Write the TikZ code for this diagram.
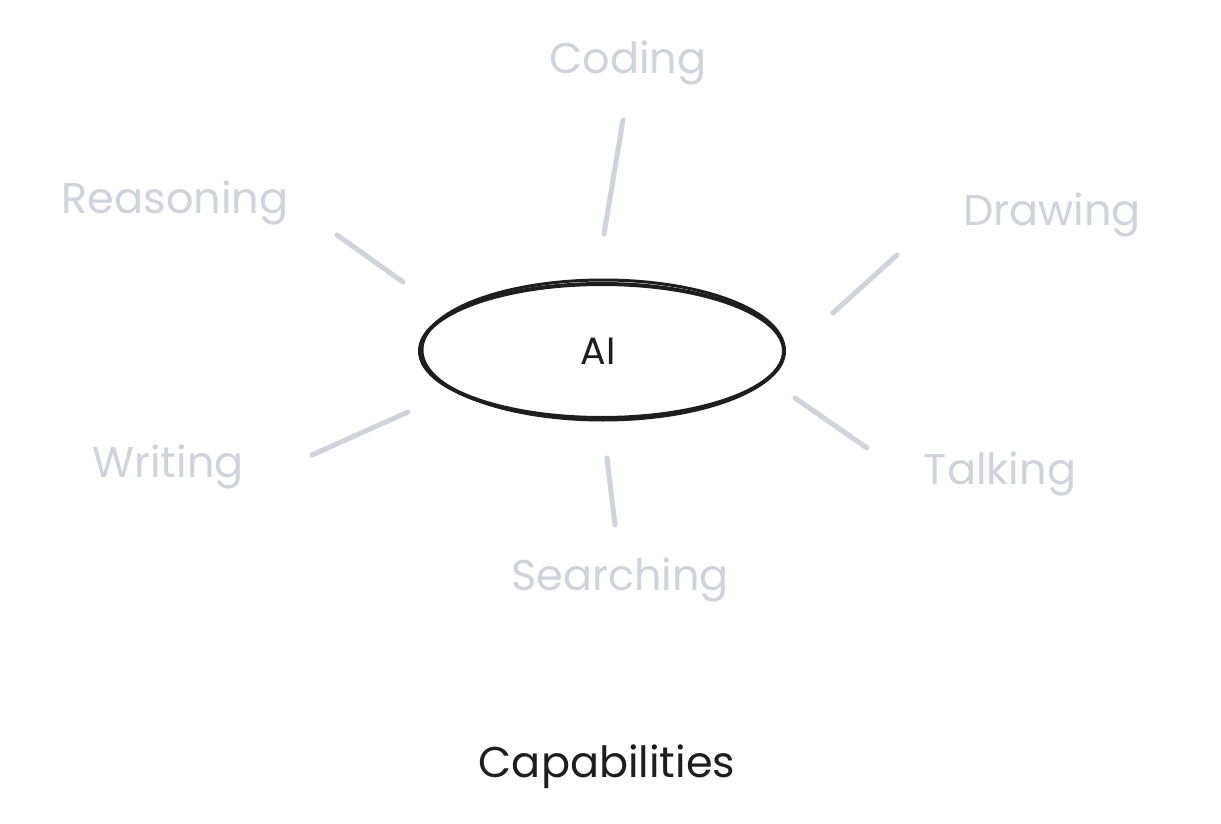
\documentclass[tikz,border=0pt]{standalone}
\usepackage{fontspec}
\setmainfont{Poppins}
\definecolor{lbl}{HTML}{CED4DA}
\definecolor{ink}{HTML}{1E1E1E}
\begin{document}
\begin{tikzpicture}[x=1pt,y=-1pt,
  lbltext/.style={text=lbl,font=\fontsize{43}{50}\selectfont,inner sep=0pt},
  spoke/.style={draw=lbl,line width=5pt,line cap=round},
  ring/.style={draw=ink,line width=4pt}]
\useasboundingbox[fill=white] (0,0) rectangle (1221,824);
% central ellipse, sketchy double stroke
\draw[ring] (602,351) ellipse [x radius=182, y radius=67];
\draw[ring,line width=3pt] (603,350) ellipse [x radius=181, y radius=70];
\node[font=\fontsize{38}{44}\selectfont,text=ink,inner sep=0pt] (ai) at (598,351) {AI};
% labels
\node[lbltext] (coding) at (628,63) {Coding};
\node[lbltext] (reasoning) at (175,203) {Reasoning};
\node[lbltext] (drawing) at (1052,215) {Drawing};
\node[lbltext] (writing) at (168,467) {Writing};
\node[lbltext] (talking) at (1000,474) {Talking};
\node[lbltext] (searching) at (620,580) {Searching};
\node[text=ink,font=\fontsize{43}{50}\selectfont,inner sep=0pt] (capab) at (607,767) {Capabilities};
% spoke ends
\coordinate (c1) at (623,120); \coordinate (c2) at (604,234);
\coordinate (r1) at (337,235); \coordinate (r2) at (403,282);
\coordinate (d1) at (897,255); \coordinate (d2) at (833,313);
\coordinate (w1) at (408,412); \coordinate (w2) at (312,455);
\coordinate (t1) at (795,398); \coordinate (t2) at (867,448);
\coordinate (s1) at (607,458); \coordinate (s2) at (615,525);
\draw[spoke] (c1) -- (c2);
\draw[spoke] (r1) -- (r2);
\draw[spoke] (d1) -- (d2);
\draw[spoke] (w1) -- (w2);
\draw[spoke] (t1) -- (t2);
\draw[spoke] (s1) -- (s2);
\end{tikzpicture}
\end{document}
